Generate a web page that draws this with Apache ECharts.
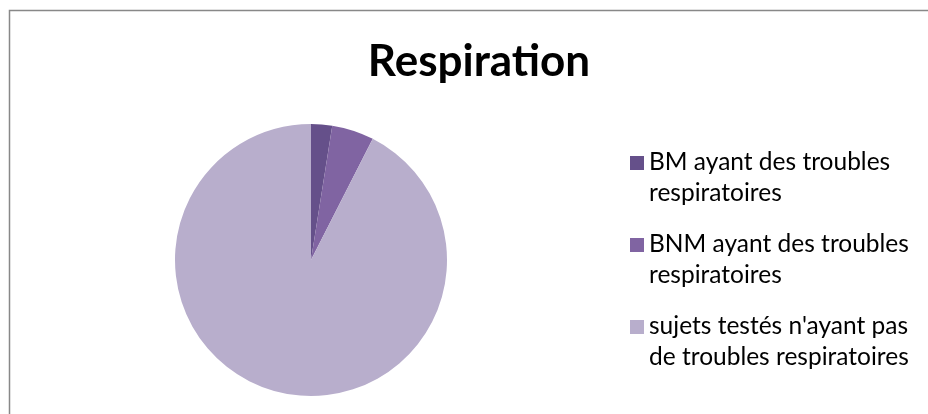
<!DOCTYPE html>
<html>
<head>
<meta charset="utf-8">
<script src="https://cdn.jsdelivr.net/npm/echarts@6/dist/echarts.min.js"></script>
<style>
  html, body { margin: 0; padding: 0; background: #fff; }
  #main { width: 928px; height: 414px; }
</style>
</head>
<body>
<div id="main"></div>
<script>
// categories and values (about 2.5% / 5% / 92.5%)
const categories = [
  'BM ayant des troubles respiratoires',
  'BNM ayant des troubles respiratoires',
  "sujets testés n'ayant pas de troubles respiratoires"
];
const values = [1, 2, 37];
// legend text as it wraps in the original
const legendLines = [
  'BM ayant des troubles\nrespiratoires',
  'BNM ayant des troubles\nrespiratoires',
  "sujets testés n'ayant pas\nde troubles respiratoires"
];
const colors = ['#65508a', '#8064a2', '#b8aecc'];

let chart = echarts.init(document.getElementById('main'), null, {renderer: 'canvas'});

// square sits on the first line of a two-line legend entry
const legendIcon = 'path://M0,9H14V23H0Z M0,0h0.01v0.01h-0.01Z M0,62h0.01v-0.01h-0.01Z';

const option = {
  animation: false,
  color: colors,
  title: {
    text: 'Respiration',
    left: 474,
    textAlign: 'center',
    top: 35,
    textStyle: {
      fontFamily: 'Lato',
      fontWeight: 'bold',
      fontSize: 44,
      color: '#000'
    }
  },
  graphic: [
    {
      type: 'rect',
      shape: {x: 9.5, y: 10.5, width: 940, height: 440},
      style: {fill: 'none', stroke: '#888', lineWidth: 1.5}
    }
  ],
  legend: {
    orient: 'vertical',
    left: 625,
    top: 142,
    itemWidth: 14,
    itemHeight: 62,
    itemGap: 20,
    icon: legendIcon,
    formatter: function (name) {
      return legendLines[categories.indexOf(name)];
    },
    textStyle: {
      fontFamily: 'Lato',
      fontSize: 24.5,
      lineHeight: 31,
      color: '#000'
    }
  },
  series: [
    {
      type: 'pie',
      center: [311, 260],
      radius: 136,
      startAngle: 90,
      clockwise: true,
      label: {show: false},
      labelLine: {show: false},
      emphasis: {disabled: true},
      itemStyle: {borderWidth: 0},
      data: categories.map((c, i) => ({name: c, value: values[i]}))
    }
  ]
};

chart.setOption(option);
window.addEventListener('resize', chart.resize);
</script>
</body>
</html>
